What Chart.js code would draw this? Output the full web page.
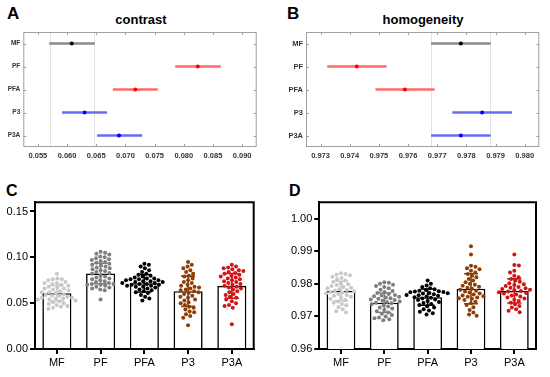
<!DOCTYPE html>
<html>
<head>
<meta charset="utf-8">
<script src="https://cdn.jsdelivr.net/npm/chart.js@4.4.1/dist/chart.umd.min.js"></script>
<style>
  body { margin: 0; width: 550px; height: 377px; background: #fff; position: relative; overflow: hidden;
         font-family: 'Liberation Sans', Arial, sans-serif; }
  .panel { position: absolute; }
  .letter { position: absolute; font-weight: bold; line-height: 1; color: #000; }
  .title { position: absolute; font-weight: bold; font-size: 13px; line-height: 13px; color: #000;
           transform: translateX(-50%); white-space: nowrap; }
</style>
</head>
<body>
<div class="letter" style="left:7px;top:5px;font-size:17px">A</div>
<div class="letter" style="left:287px;top:5px;font-size:17px">B</div>
<div class="letter" style="left:6px;top:183px;font-size:16px">C</div>
<div class="letter" style="left:289px;top:183px;font-size:16px">D</div>
<div class="title" style="left:141px;top:13px">contrast</div>
<div class="title" style="left:423px;top:13px">homogeneity</div>

<div class="panel" style="left:0;top:0;width:275px;height:165px"><canvas id="chartA"></canvas></div>
<div class="panel" style="left:275px;top:0;width:275px;height:165px"><canvas id="chartB"></canvas></div>
<div class="panel" style="left:0;top:180px;width:275px;height:197px"><canvas id="chartC"></canvas></div>
<div class="panel" style="left:275px;top:180px;width:275px;height:197px"><canvas id="chartD"></canvas></div>

<script>
const groups = ['MF', 'PF', 'PFA', 'P3', 'P3A']

// A: contrast, group means with comparison intervals
const contrastMean = [0.0608, 0.0824, 0.0717, 0.0630, 0.0689]
const contrastLo = [0.0570, 0.0786, 0.0679, 0.0592, 0.0652]
const contrastHi = [0.0647, 0.0863, 0.0755, 0.0668, 0.0728]
const contrastTicks = [0.055, 0.060, 0.065, 0.070, 0.075, 0.080, 0.085, 0.090]

// B: homogeneity
const homogMean = [0.97781, 0.97424, 0.97589, 0.97854, 0.97781]
const homogLo = [0.97680, 0.97324, 0.97489, 0.97753, 0.97680]
const homogHi = [0.97882, 0.97525, 0.97690, 0.97955, 0.97882]
const homogTicks = [0.973, 0.974, 0.975, 0.976, 0.977, 0.978, 0.979, 0.980]

// C: contrast bars (mean, SD) and individual values
const barMeanC = [0.0608, 0.0824, 0.0717, 0.0630, 0.0689]
const barSdC = [0.0085, 0.0112, 0.0095, 0.0165, 0.0135]
const yTicksC = [0.00, 0.05, 0.10, 0.15]
const contrastMF = [0.082, 0.077, 0.076, 0.076, 0.075, 0.073, 0.072, 0.072, 0.071, 0.070, 0.069, 0.068, 0.067, 0.066,
  0.066, 0.065, 0.064, 0.063, 0.062, 0.062, 0.061, 0.060, 0.059, 0.058, 0.058, 0.057, 0.056, 0.056, 0.055, 0.055,
  0.054, 0.054, 0.053, 0.052, 0.051, 0.050, 0.049, 0.048, 0.047, 0.046, 0.045, 0.044]
const contrastPF = [0.106, 0.105, 0.104, 0.103, 0.101, 0.100, 0.099, 0.098, 0.097, 0.096, 0.095, 0.094, 0.093, 0.092,
  0.091, 0.090, 0.089, 0.088, 0.087, 0.086, 0.085, 0.084, 0.083, 0.082, 0.080, 0.079, 0.078, 0.077, 0.076, 0.075,
  0.074, 0.073, 0.072, 0.071, 0.071, 0.070, 0.070, 0.069, 0.068, 0.067, 0.066, 0.065, 0.064, 0.054]
const contrastPFA = [0.093, 0.092, 0.090, 0.088, 0.086, 0.084, 0.082, 0.081, 0.080, 0.079, 0.078, 0.077, 0.077, 0.076,
  0.076, 0.075, 0.075, 0.074, 0.074, 0.073, 0.073, 0.072, 0.072, 0.071, 0.071, 0.070, 0.070, 0.069, 0.069, 0.068,
  0.068, 0.067, 0.066, 0.065, 0.064, 0.063, 0.062, 0.061, 0.059, 0.057, 0.055, 0.053]
const contrastP3 = [0.095, 0.092, 0.090, 0.088, 0.086, 0.084, 0.082, 0.080, 0.079, 0.077, 0.075, 0.073, 0.072, 0.070,
  0.069, 0.068, 0.067, 0.066, 0.065, 0.064, 0.063, 0.062, 0.061, 0.060, 0.058, 0.057, 0.056, 0.054, 0.053, 0.051,
  0.050, 0.048, 0.046, 0.045, 0.043, 0.041, 0.040, 0.038, 0.036, 0.034, 0.026]
const contrastP3A = [0.092, 0.090, 0.089, 0.088, 0.087, 0.086, 0.085, 0.084, 0.083, 0.082, 0.081, 0.080, 0.079, 0.078,
  0.077, 0.076, 0.075, 0.074, 0.073, 0.072, 0.071, 0.070, 0.069, 0.068, 0.067, 0.066, 0.065, 0.063, 0.062, 0.060,
  0.059, 0.057, 0.056, 0.054, 0.052, 0.050, 0.048, 0.047, 0.045, 0.027]

// D: homogeneity bars (mean, SD) and individual values
const barMeanD = [0.9778, 0.9742, 0.9759, 0.9785, 0.9778]
const barSdD = [0.0030, 0.0030, 0.0025, 0.0046, 0.0037]
const yTicksD = [0.96, 0.97, 0.98, 0.99, 1.00]
const homogMF = [0.9832, 0.9830, 0.9828, 0.9826, 0.9822, 0.9818, 0.9814, 0.9810, 0.9806, 0.9802, 0.9799, 0.9796,
  0.9793, 0.9790, 0.9788, 0.9786, 0.9783, 0.9781, 0.9779, 0.9777, 0.9775, 0.9773, 0.9771, 0.9769, 0.9766, 0.9763,
  0.9760, 0.9757, 0.9754, 0.9750, 0.9746, 0.9742, 0.9738, 0.9734, 0.9728, 0.9722, 0.9716, 0.9712]
const homogPF = [0.9805, 0.9803, 0.9800, 0.9797, 0.9793, 0.9790, 0.9786, 0.9782, 0.9778, 0.9775, 0.9772, 0.9769,
  0.9766, 0.9764, 0.9762, 0.9760, 0.9758, 0.9756, 0.9754, 0.9752, 0.9750, 0.9748, 0.9746, 0.9744, 0.9742, 0.9740,
  0.9737, 0.9734, 0.9730, 0.9727, 0.9724, 0.9720, 0.9716, 0.9712, 0.9708, 0.9704, 0.9700, 0.9697, 0.9694, 0.9691, 0.9688]
const homogPFA = [0.9810, 0.9800, 0.9795, 0.9790, 0.9786, 0.9783, 0.9781, 0.9779, 0.9777, 0.9776, 0.9775, 0.9774,
  0.9772, 0.9771, 0.9770, 0.9768, 0.9766, 0.9765, 0.9763, 0.9761, 0.9759, 0.9757, 0.9755, 0.9752, 0.9750, 0.9747,
  0.9744, 0.9741, 0.9738, 0.9735, 0.9731, 0.9727, 0.9722, 0.9718, 0.9714, 0.9710, 0.9706]
const homogP3 = [0.9915, 0.9890, 0.9855, 0.9852, 0.9848, 0.9845, 0.9840, 0.9835, 0.9830, 0.9825, 0.9820, 0.9815,
  0.9810, 0.9805, 0.9800, 0.9797, 0.9794, 0.9791, 0.9788, 0.9785, 0.9782, 0.9779, 0.9776, 0.9773, 0.9770, 0.9767,
  0.9764, 0.9762, 0.9760, 0.9758, 0.9756, 0.9754, 0.9750, 0.9745, 0.9740, 0.9735, 0.9728, 0.9720, 0.9712, 0.9706, 0.9702]
const homogP3A = [0.9890, 0.9858, 0.9856, 0.9840, 0.9835, 0.9825, 0.9820, 0.9815, 0.9810, 0.9806, 0.9802, 0.9799,
  0.9796, 0.9793, 0.9790, 0.9788, 0.9786, 0.9784, 0.9782, 0.9780, 0.9778, 0.9776, 0.9774, 0.9772, 0.9770, 0.9767,
  0.9764, 0.9761, 0.9758, 0.9755, 0.9751, 0.9747, 0.9742, 0.9737, 0.9732, 0.9727, 0.9722, 0.9717, 0.9713]

const forestDot = ['#000000', '#ff0000', '#ff0000', '#0000ff', '#0000ff']
const forestLine = ['#8a8a8a', '#ff6b6b', '#ff6b6b', '#6b6bf0', '#6b6bf0']
const swarmColors = ['#c8c8c8', '#7f7f7f', '#000000', '#8b3e06', '#d01515']

Chart.defaults.font.family = "'Liberation Sans', Arial, sans-serif"
Chart.defaults.animation = false

// MATLAB-like box with inward ticks and reference lines at the first group's interval
function boxPlugin(refLo, refHi) {
  return {
    id: 'box',
    beforeDatasetsDraw(chart) {
      const { ctx, chartArea, scales } = chart
      ctx.save()
      ctx.strokeStyle = '#e2e2e2'
      ctx.lineWidth = 1
      ;[refLo, refHi].forEach((v) => {
        const x = Math.round(scales.x.getPixelForValue(v)) + 0.5
        ctx.beginPath()
        ctx.moveTo(x, chartArea.top)
        ctx.lineTo(x, chartArea.bottom)
        ctx.stroke()
      })
      ctx.restore()
    },
    afterDraw(chart) {
      const { ctx, chartArea: a, scales } = chart
      ctx.save()
      ctx.strokeStyle = '#a0a0a0'
      ctx.lineWidth = 1
      ctx.strokeRect(a.left + 0.5, a.top + 0.5, a.right - a.left - 1, a.bottom - a.top - 1)
      ctx.beginPath()
      scales.x.ticks.forEach((t) => {
        const x = Math.round(scales.x.getPixelForValue(t.value)) + 0.5
        ctx.moveTo(x, a.bottom); ctx.lineTo(x, a.bottom - 3)
        ctx.moveTo(x, a.top); ctx.lineTo(x, a.top + 3)
      })
      groups.forEach((g, i) => {
        const y = Math.round(scales.y.getPixelForValue(i)) + 0.5
        ctx.moveTo(a.left, y); ctx.lineTo(a.left + 3, y)
        ctx.moveTo(a.right, y); ctx.lineTo(a.right - 3, y)
      })
      ctx.stroke()
      ctx.restore()
    },
  }
}

function forest(id, mean, lo, hi, ticks, yAxisW, rightPad, labelSize) {
  new Chart(document.getElementById(id), {
    type: 'bar',
    data: {
      labels: groups,
      datasets: [
        {
          type: 'scatter',
          data: mean.map((m, i) => ({ x: m, y: groups[i] })),
          pointBackgroundColor: forestDot,
          pointRadius: 2,
          pointBorderWidth: 0,
          order: 1,
        },
        {
          type: 'bar',
          indexAxis: 'y',
          data: lo.map((l, i) => [l, hi[i]]),
          backgroundColor: forestLine,
          borderWidth: 0,
          barThickness: 2,
          order: 2,
        },
      ],
    },
    options: {
      responsive: true,
      maintainAspectRatio: false,
      layout: { padding: { top: 32, right: rightPad, left: 0, bottom: 0 } },
      plugins: { legend: { display: false }, tooltip: { enabled: false } },
      scales: {
        x: {
          type: 'linear',
          min: ticks[0],
          max: ticks[ticks.length - 1],
          afterBuildTicks: (s) => { s.ticks = ticks.map((v) => ({ value: v })) },
          afterFit: (s) => { s.height = 18 },
          grid: { display: false, drawTicks: false },
          border: { display: false },
          ticks: { callback: (v) => v.toFixed(3), font: { size: 7.5, weight: 'bold' }, color: '#333',
            padding: 4, maxRotation: 0, autoSkip: false },
        },
        y: {
          type: 'category',
          labels: groups,
          offset: true,
          afterFit: (s) => { s.width = yAxisW },
          grid: { display: false, drawTicks: false },
          border: { display: false },
          ticks: { font: { size: labelSize, weight: 'bold' }, color: '#333', padding: 3, autoSkip: false },
        },
      },
    },
    plugins: [boxPlugin(lo[0], hi[0])],
  })
}

// greedy beeswarm: x offsets from the chart's own scales, so dots do not overlap
function swarm(chart, values, r) {
  const ys = chart.scales.y
  const xs = chart.scales.x
  const unit = xs.getPixelForValue(1) - xs.getPixelForValue(0)
  const d = 2 * r + 0.6
  values.forEach((vals, g) => {
    const pts = vals.map((v) => ({ v, py: ys.getPixelForValue(v), px: 0 })).sort((a, b) => a.py - b.py)
    const placed = []
    let flip = 1
    pts.forEach((p) => {
      const near = placed.filter((q) => Math.abs(q.py - p.py) < d)
      const cands = [0]
      near.forEach((q) => {
        const dx = Math.sqrt(d * d - (q.py - p.py) ** 2)
        cands.push(q.px - dx, q.px + dx)
      })
      const ok = (c) => near.every((q) => (q.px - c) ** 2 + (q.py - p.py) ** 2 >= d * d - 1e-6)
      let best = null
      cands.forEach((c) => {
        if (!ok(c)) return
        if (best === null || Math.abs(c) < Math.abs(best) - 1e-6) best = c
        else if (Math.abs(Math.abs(c) - Math.abs(best)) < 1e-6 && c * flip > 0) best = c
      })
      if (best !== 0) flip = -flip
      p.px = best
      placed.push(p)
    })
    chart.data.datasets[g].data = pts.map((p) => ({ x: g + p.px / unit, y: p.v }))
  })
  chart.update('none')
}

function dotBar(id, means, sds, values, yTicks, yMax, yAxisW, rightPad) {
  const r = 2
  const chart = new Chart(document.getElementById(id), {
    type: 'scatter',
    data: {
      datasets: [
        ...values.map((vals, g) => ({
          type: 'scatter',
          data: vals.map((v) => ({ x: g, y: v })),
          pointBackgroundColor: swarmColors[g],
          pointRadius: r,
          pointBorderWidth: 0,
          order: 1,
        })),
        {
          type: 'bar',
          data: means.map((m, i) => ({ x: i, y: m })),
          backgroundColor: '#ffffff',
          borderColor: '#000000',
          borderWidth: 1.6,
          grouped: false,
          barPercentage: 0.665,
          categoryPercentage: 1,
          order: 2,
        },
      ],
    },
    options: {
      responsive: true,
      maintainAspectRatio: false,
      layout: { padding: { top: 22.3, right: rightPad, left: 0, bottom: 0 } },
      plugins: { legend: { display: false }, tooltip: { enabled: false } },
      scales: {
        x: {
          type: 'linear',
          min: -0.5,
          max: 4.5,
          offset: false,
          afterBuildTicks: (s) => { s.ticks = groups.map((g, i) => ({ value: i })) },
          afterFit: (s) => { s.height = 28 },
          grid: { offset: false, drawOnChartArea: false, color: '#000', lineWidth: 2, tickLength: 5 },
          border: { color: '#000', width: 2 },
          ticks: { callback: (v) => groups[v], color: '#000', font: { size: 11 }, padding: 2,
            maxRotation: 0, autoSkip: false },
        },
        y: {
          type: 'linear',
          min: yTicks[0],
          max: yMax,
          afterBuildTicks: (s) => { s.ticks = yTicks.map((v) => ({ value: v })) },
          afterFit: (s) => { s.width = yAxisW },
          grid: { drawOnChartArea: false, color: '#000', lineWidth: 2, tickLength: 5 },
          border: { color: '#000', width: 2 },
          ticks: { callback: (v) => v.toFixed(2), color: '#000', font: { size: 11 }, padding: 2 },
        },
      },
    },
    plugins: [
      {
        id: 'errorBars',
        afterDatasetsDraw(c) {
          const { ctx, scales } = c
          ctx.save()
          ctx.lineWidth = 1.6
          means.forEach((m, i) => {
            const x = scales.x.getPixelForValue(i)
            const y1 = scales.y.getPixelForValue(m - sds[i])
            const y2 = scales.y.getPixelForValue(m + sds[i])
            ctx.strokeStyle = swarmColors[i]
            ctx.beginPath()
            ctx.moveTo(x, y1); ctx.lineTo(x, y2)
            ctx.moveTo(x - 7, y1); ctx.lineTo(x + 7, y1)
            ctx.moveTo(x - 7, y2); ctx.lineTo(x + 7, y2)
            ctx.stroke()
          })
          ctx.restore()
        },
        afterDraw(c) {
          const { ctx, chartArea: a } = c
          ctx.save()
          ctx.strokeStyle = '#000'
          ctx.lineWidth = 2
          ctx.beginPath()
          ctx.moveTo(a.left - 1, a.top)
          ctx.lineTo(a.right, a.top)
          ctx.lineTo(a.right, a.bottom + 1)
          ctx.stroke()
          ctx.restore()
        },
      },
    ],
  })
  swarm(chart, values, r)
}

forest('chartA', contrastMean, contrastLo, contrastHi, contrastTicks, 23.3, 18.3, 6.5)
forest('chartB', homogMean, homogLo, homogHi, homogTicks, 31, 10.7, 7.5)
dotBar('chartC', barMeanC, barSdC, [contrastMF, contrastPF, contrastPFA, contrastP3, contrastP3A],
  yTicksC, 0.16, 35, 21.3)
dotBar('chartD', barMeanD, barSdD, [homogMF, homogPF, homogPFA, homogP3, homogP3A],
  yTicksD, 1.005, 44.3, 14)
</script>
</body>
</html>
